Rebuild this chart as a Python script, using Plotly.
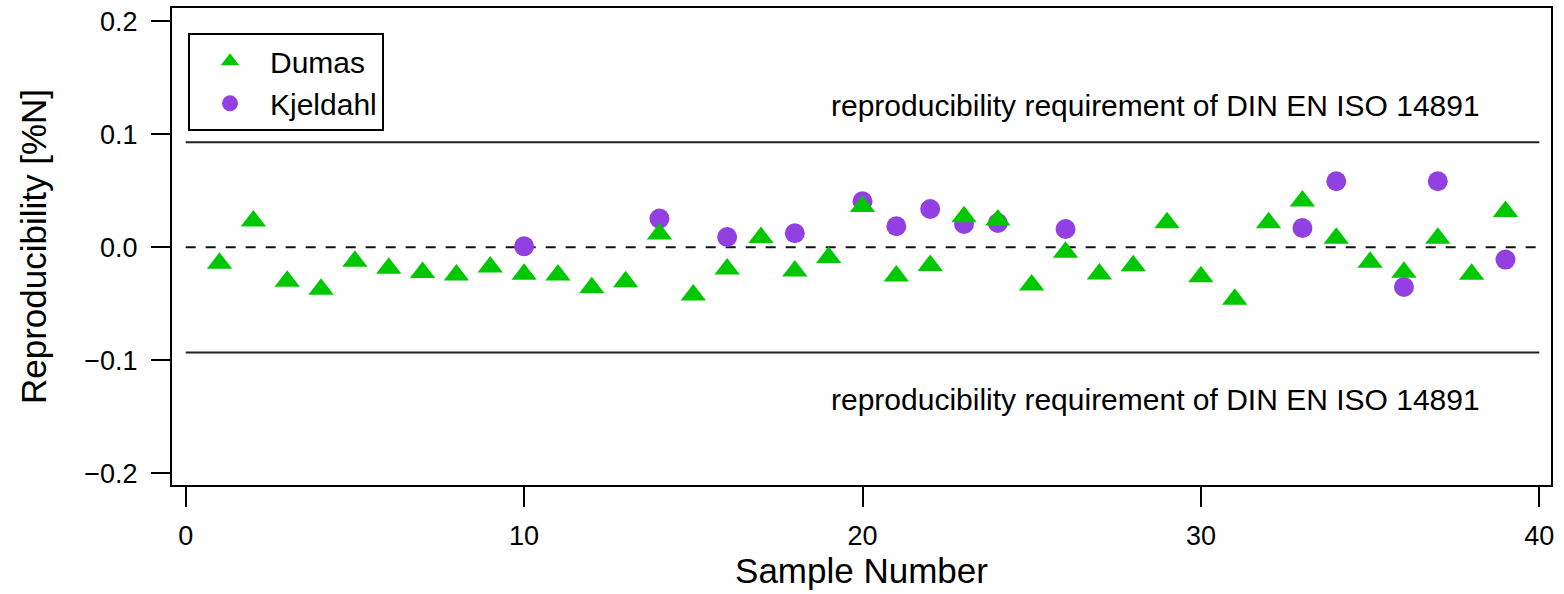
import plotly.graph_objects as go

# ---- data ----
dumas_samples = list(range(1, 40))
dumas_values = [
    -0.0142, 0.0233, -0.0301, -0.0372, -0.0124, -0.0186, -0.0224, -0.0245,
    -0.0174, -0.0239, -0.0245, -0.0357, -0.0304, 0.0117, -0.0422, -0.0192,
    0.0086, -0.0209, -0.0091, 0.0360, -0.0254, -0.0162, 0.0271, 0.0242,
    -0.0333, -0.0044, -0.0236, -0.0164, 0.0218, -0.0260, -0.0460, 0.0218,
    0.0410, 0.0080, -0.0133, -0.0221, 0.0080, -0.0239, 0.0316,
]
kjeldahl_samples = [10, 14, 16, 18, 20, 21, 22, 23, 24, 26, 33, 34, 36, 37, 39]
kjeldahl_values = [
    0.0009, 0.0254, 0.0091, 0.0124, 0.0407, 0.0186, 0.0339, 0.0206,
    0.0215, 0.0162, 0.0171, 0.0584, -0.0351, 0.0584, -0.0109,
]
line_x = [0, 40]
limit_upper = 0.093
limit_lower = -0.093
zero_level = 0.0
limit_label = "reproducibility requirement of DIN EN ISO 14891"
x_ticks = [0, 10, 20, 30, 40]
y_ticks = [-0.2, -0.1, 0.0, 0.1, 0.2]
y_tick_text = ["\u22120.2", "\u22120.1", "0.0", "0.1", "0.2"]

FONT = "Liberation Sans, Arial, sans-serif"
GREEN = "#00C800"
PURPLE = "#9340E3"

fig = go.Figure()

# reference lines
fig.add_trace(go.Scatter(x=line_x, y=[limit_upper, limit_upper], mode="lines",
                         line=dict(color="#222222", width=2), showlegend=False, hoverinfo="skip"))
fig.add_trace(go.Scatter(x=line_x, y=[limit_lower, limit_lower], mode="lines",
                         line=dict(color="#222222", width=2), showlegend=False, hoverinfo="skip"))
fig.add_trace(go.Scatter(x=line_x, y=[zero_level, zero_level], mode="lines",
                         line=dict(color="#111111", width=2, dash="10px,10px"),
                         showlegend=False, hoverinfo="skip"))

fig.add_trace(go.Scatter(
    x=kjeldahl_samples, y=kjeldahl_values, mode="markers", name="Kjeldahl",
    marker=dict(symbol="circle", size=20, color=PURPLE, line=dict(width=0)),
    legendrank=2, legendgroup="k",
))
fig.add_trace(go.Scatter(
    x=dumas_samples, y=dumas_values, mode="markers", name="Dumas",
    marker=dict(symbol="triangle-up", size=22, color=GREEN, line=dict(width=0)),
    legendrank=1, legendgroup="d",
))

fig.add_annotation(x=19.0, y=0.1257, xref="x", yref="y", text=limit_label,
                   showarrow=False, xanchor="left", yanchor="middle",
                   font=dict(family=FONT, size=30, color="black"))
fig.add_annotation(x=19.0, y=-0.1345, xref="x", yref="y", text=limit_label,
                   showarrow=False, xanchor="left", yanchor="middle",
                   font=dict(family=FONT, size=30, color="black"))

# frame
fig.add_shape(type="rect", xref="paper", yref="paper", x0=0, x1=1, y0=0, y1=1,
              line=dict(color="black", width=2), layer="above")

fig.update_layout(
    width=1564, height=594,
    margin=dict(l=171, r=12, t=7, b=108, autoexpand=False),
    paper_bgcolor="white", plot_bgcolor="white",
    font=dict(family=FONT, size=27, color="black"),
    showlegend=True,
    legend=dict(
        x=0.0123, y=0.945, xanchor="left", yanchor="top",
        bgcolor="white", bordercolor="black", borderwidth=2,
        font=dict(family=FONT, size=30, color="black"),
        itemwidth=70, traceorder="grouped", tracegroupgap=0,
    ),
)
fig.update_xaxes(
    range=[-0.434, 40.375], tickvals=x_ticks, ticks="outside", ticklen=20,
    tickwidth=2, tickcolor="black", showgrid=False, zeroline=False, showline=False,
    tickfont=dict(family=FONT, size=27), ticklabelstandoff=6,
    title=dict(text="Sample Number", font=dict(family=FONT, size=35), standoff=6),
)
fig.update_yaxes(
    range=[-0.21124, 0.21265], tickvals=y_ticks, ticktext=y_tick_text, ticks="outside",
    ticklen=19, tickwidth=2, tickcolor="black", showgrid=False, zeroline=False,
    showline=False, tickfont=dict(family=FONT, size=27), ticklabelstandoff=8,
    title=dict(text="Reproducibility [%N]", font=dict(family=FONT, size=35), standoff=27),
)

fig.write_html("out.html")
